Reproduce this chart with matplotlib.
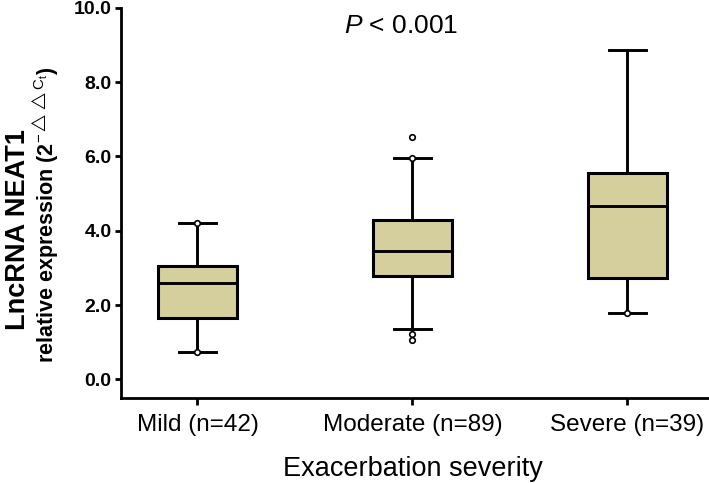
import matplotlib
matplotlib.use("Agg")
import matplotlib.pyplot as plt
from matplotlib.ticker import FormatStrFormatter

plt.rcParams['font.family'] = ['Liberation Sans', 'DejaVu Sans']
plt.rcParams['mathtext.fontset'] = 'custom'
plt.rcParams['mathtext.rm'] = 'Liberation Sans'
plt.rcParams['mathtext.it'] = 'Liberation Sans:italic'
plt.rcParams['mathtext.bf'] = 'Liberation Sans:bold'

# box summary
groups = ['Mild (n=42)', 'Moderate (n=89)', 'Severe (n=39)']
q1 = [1.65, 2.79, 2.73]
med = [2.59, 3.46, 4.66]
q3 = [3.06, 4.28, 5.54]
lo_whisk = [0.73, 1.36, 1.80]
hi_whisk = [4.22, 5.96, 8.85]
outliers = [[4.22, 0.73], [6.52, 5.96, 1.23, 1.07], [1.80]]

stats = []
for i in range(len(groups)):
    stats.append(dict(label=groups[i], q1=q1[i], med=med[i], q3=q3[i],
                      whislo=lo_whisk[i], whishi=hi_whisk[i], fliers=outliers[i]))

fig = plt.figure(figsize=(7.09, 4.83), dpi=100)
ax = fig.add_axes([0.170, 0.176, 0.830, 0.808])

lw = 2.1
ax.bxp(stats, positions=[1, 2, 3], widths=0.37, patch_artist=True,
       capwidths=0.175,
       boxprops=dict(facecolor='#d4cf9c', edgecolor='black', linewidth=2.2),
       medianprops=dict(color='black', linewidth=lw),
       whiskerprops=dict(color='black', linewidth=lw),
       capprops=dict(color='black', linewidth=lw),
       flierprops=dict(marker='o', markerfacecolor='white', markeredgecolor='black',
                       markersize=4, markeredgewidth=1.2))

ax.set_xlim(0.642, 3.38)
ax.set_ylim(-0.5, 10.0)
ax.set_yticks([0, 2, 4, 6, 8, 10])
ax.yaxis.set_major_formatter(FormatStrFormatter('%.1f'))
for t in ax.get_yticklabels():
    t.set_fontweight('bold')
ax.tick_params(axis='y', labelsize=14, width=2, length=4.5, pad=2)
ax.tick_params(axis='x', labelsize=17.5, width=2, length=5, pad=6.5)

ax.spines['top'].set_visible(False)
ax.spines['right'].set_visible(False)
ax.spines['left'].set_linewidth(2)
ax.spines['bottom'].set_linewidth(2)

# axis titles
fig.text(0.582, 1 - 476 / 483, 'Exacerbation severity', ha='center',
         va='baseline', fontsize=19.5)
fig.text(0.026, 0.524, 'LncRNA NEAT1', rotation=90, ha='center', va='center',
         fontsize=19.5, fontweight='bold')
fig.text(0.0635, 0.555, 'relative expression (2$^{-\\triangle\\triangle\\mathrm{C_t}}$)',
         rotation=90, ha='center', va='center', fontsize=15.5, fontweight='bold')

fig.text(0.566, 1 - 33 / 483, '$\\it{P}$ < 0.001', ha='center', va='baseline',
         fontsize=19)

fig.savefig('out.png', dpi=100)
